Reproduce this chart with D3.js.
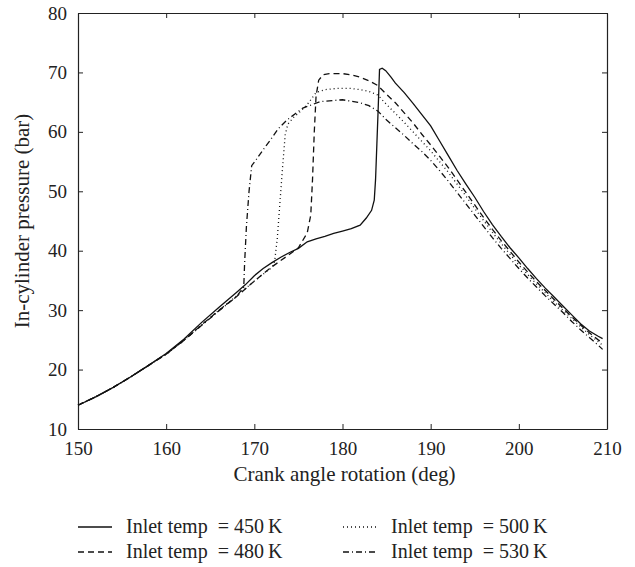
<!DOCTYPE html>
<html>
<head>
<meta charset="utf-8">
<script src="https://cdn.jsdelivr.net/npm/d3@7"></script>
<style>
  body { margin: 0; background: #fff; }
  svg { display: block; }
  text { font-family: 'Liberation Serif', 'Times New Roman', serif; fill: #222; }
  .legendText { white-space: pre; }
</style>
</head>
<body>
<svg id="chart" width="635" height="567"></svg>
<script>
// Crank angle (deg) / in-cylinder pressure (bar)
var inlet450 = [
  [150, 14.0], [152, 15.4], [154, 17.0], [156, 18.8], [158, 20.7], [160, 22.7],
  [162, 25.1], [164, 27.9], [166, 30.5], [168, 33.0], [169, 34.3], [170, 35.8],
  [171, 37.0], [172, 38.0], [173, 38.9], [174, 39.7], [175, 40.4], [176, 41.5],
  [177, 42.0], [178, 42.4], [179, 42.9], [180, 43.3], [181, 43.7], [182, 44.3],
  [182.7, 45.5], [183.3, 46.8], [183.6, 48.5], [183.75, 52], [183.9, 58],
  [184.05, 64], [184.2, 70.5], [184.5, 70.7], [184.9, 70.3], [185.5, 69.2],
  [186, 68.2], [187, 66.6], [188, 64.8], [189, 62.9], [190, 61.0], [191, 58.5],
  [192, 56.0], [193, 53.5], [194, 51.2], [195, 49.0], [196, 46.6], [197, 44.4],
  [198, 42.4], [199, 40.5], [200, 38.8], [201, 37.0], [202, 35.3], [203, 33.7],
  [204, 32.2], [205, 30.7], [206, 29.2], [207, 27.7], [208, 26.5], [209, 25.6],
  [209.5, 25.2]
];
var inlet480 = [
  [150, 14.0], [152, 15.4], [154, 17.0], [156, 18.8], [158, 20.7], [160, 22.6],
  [162, 24.9], [164, 27.5], [166, 30.0], [168, 32.3], [170, 34.9], [172, 37.3],
  [174, 39.4], [175, 40.5], [176, 43.0], [176.4, 46], [176.6, 52], [176.8, 60],
  [177, 66], [177.3, 68.7], [177.8, 69.6], [178.5, 69.8], [180, 69.8], [181, 69.6],
  [182, 69.2], [183, 68.6], [184, 67.8], [185, 66.3], [186, 64.9], [187, 63.2],
  [188, 61.5], [189, 59.6], [190, 57.8], [191, 55.9], [192, 54.0], [193, 51.9],
  [194, 49.8], [195, 47.7], [196, 45.6], [197, 43.6], [198, 41.7], [199, 39.9],
  [200, 38.1], [201, 36.4], [202, 34.8], [203, 33.3], [204, 31.8], [205, 30.3],
  [206, 28.9], [207, 27.5], [208, 26.2], [209, 25.0], [209.5, 24.5]
];
var inlet500 = [
  [150, 14.0], [152, 15.4], [154, 17.0], [156, 18.8], [158, 20.7], [160, 22.6],
  [162, 24.9], [164, 27.5], [166, 30.0], [168, 32.4], [170, 34.9], [172, 37.2],
  [172.3, 38.2], [172.6, 42], [172.9, 48], [173.2, 54], [173.5, 59.5],
  [173.8, 61.3], [174.5, 62.5], [175.2, 63.4], [176, 64.6], [177, 66.6],
  [178, 67.1], [179.3, 67.3], [181, 67.3], [182, 67.1], [183, 66.8], [184, 66.2],
  [185, 64.6], [186, 63.1], [187, 61.6], [188, 60.0], [189, 58.4], [190, 56.8],
  [191, 55.0], [192, 53.2], [193, 51.2], [194, 49.2], [195, 47.1], [196, 45.1],
  [197, 43.1], [198, 41.2], [199, 39.4], [200, 37.6], [201, 36.0], [202, 34.4],
  [203, 32.9], [204, 31.4], [205, 30.0], [206, 28.6], [207, 27.2], [208, 25.9],
  [209, 24.7], [209.5, 24.1]
];
var inlet530 = [
  [150, 14.0], [152, 15.4], [154, 17.0], [156, 18.8], [158, 20.7], [160, 22.6],
  [162, 24.9], [164, 27.4], [166, 29.9], [168, 32.3], [168.8, 33.9], [168.9, 38],
  [169.1, 44], [169.4, 50], [169.7, 54.3], [170.3, 55.5], [171, 57.0],
  [171.8, 58.6], [172.7, 60.5], [173.7, 62.0], [175.5, 64.0], [177.5, 65.1],
  [180, 65.4], [182, 64.9], [183, 64.4], [184, 63.5], [185, 62.0], [186, 60.7],
  [187, 59.4], [188, 58.0], [189, 56.7], [190, 55.2], [191, 53.5], [192, 51.7],
  [193, 49.8], [194, 47.9], [195, 46.0], [196, 44.1], [197, 42.2], [198, 40.4],
  [199, 38.7], [200, 37.0], [201, 35.4], [202, 33.9], [203, 32.4], [204, 31.0],
  [205, 29.6], [206, 28.1], [207, 26.7], [208, 25.4], [209, 24.1], [209.5, 23.4]
];

var seriesLabels = ['Inlet temp  = 450\u2009K', 'Inlet temp  = 480\u2009K',
                    'Inlet temp  = 500\u2009K', 'Inlet temp  = 530\u2009K'];
var xTicks = [150, 160, 170, 180, 190, 200, 210];
var yTicks = [10, 20, 30, 40, 50, 60, 70, 80];

(function (d3) {
  'use strict';

  var margin = {top: 13, right: 28, bottom: 138, left: 78},
      width = 635 - margin.left - margin.right,
      height = 567 - margin.top - margin.bottom;

  var svg = d3.select('#chart'),
      g = svg.append('g')
        .attr('transform', 'translate(' + margin.left + ',' + margin.top + ')');

  var x = d3.scaleLinear().domain([150, 210]).range([0, width]);
  var y = d3.scaleLinear().domain([10, 80]).range([height, 0]);

  // Line styles for each inlet temperature
  var series = [
    {data: inlet450, dash: null},
    {data: inlet480, dash: '6,4'},
    {data: inlet500, dash: '1,3'},
    {data: inlet530, dash: '6,3,1,3'}
  ];

  // Axes with inward ticks on all four sides
  function styleAxis(sel) {
    sel.select('.domain').attr('stroke', '#222').attr('stroke-width', 1.2);
    sel.selectAll('.tick line').attr('stroke', '#222').attr('stroke-width', 1);
    sel.selectAll('.tick text')
      .style('font-family', "'Liberation Serif', serif")
      .style('font-size', '19px')
      .attr('fill', '#222');
  }

  g.append('g')
    .attr('transform', 'translate(0,' + height + ')')
    .call(d3.axisBottom(x).tickValues(xTicks).tickSizeInner(-5).tickSizeOuter(0).tickPadding(13))
    .call(styleAxis);
  g.append('g')
    .call(d3.axisTop(x).tickValues(xTicks).tickSizeInner(-5).tickSizeOuter(0).tickFormat(''))
    .call(styleAxis);
  g.append('g')
    .call(d3.axisLeft(y).tickValues(yTicks).tickSizeInner(-5).tickSizeOuter(0).tickPadding(11))
    .call(styleAxis);
  g.append('g')
    .attr('transform', 'translate(' + width + ',0)')
    .call(d3.axisRight(y).tickValues(yTicks).tickSizeInner(-5).tickSizeOuter(0).tickFormat(''))
    .call(styleAxis);

  // Axis titles
  g.append('text')
    .attr('x', width / 2 + 2)
    .attr('y', 468)
    .attr('text-anchor', 'middle')
    .style('font-size', '21px')
    .text('Crank angle rotation (deg)');

  g.append('text')
    .attr('transform', 'translate(' + (-49) + ',' + (height / 2) + ') rotate(-90)')
    .attr('text-anchor', 'middle')
    .style('font-size', '21px')
    .text('In-cylinder pressure (bar)');

  // Pressure curves
  var line = d3.line()
    .x(function(d) { return x(d[0]); })
    .y(function(d) { return y(d[1]); });

  g.selectAll('.curve')
    .data(series)
    .enter().append('path')
      .attr('class', 'curve')
      .attr('fill', 'none')
      .attr('stroke', '#111')
      .attr('stroke-width', 1.3)
      .attr('stroke-dasharray', function(d) { return d.dash; })
      .attr('d', function(d) { return line(d.data); });

  // Legend, two columns
  var legendPos = [
    {x: 0, y: 514}, {x: 0, y: 539},
    {x: 265, y: 514}, {x: 265, y: 539}
  ];
  var legend = svg.append('g')
    .attr('transform', 'translate(78,0)')
    .selectAll('.legendItem')
    .data(series)
    .enter().append('g')
      .attr('class', 'legendItem')
      .attr('transform', function(d, i) {
        return 'translate(' + legendPos[i].x + ',' + legendPos[i].y + ')';
      });

  legend.append('line')
    .attr('x1', 0).attr('x2', 34)
    .attr('y1', 13).attr('y2', 13)
    .attr('stroke', '#111')
    .attr('stroke-width', 1.3)
    .attr('stroke-dasharray', function(d) { return d.dash; });

  legend.append('text')
    .attr('class', 'legendText')
    .attr('x', 48)
    .attr('y', 19)
    .style('font-size', '20px')
    .text(function(d, i) { return seriesLabels[i]; });

}(d3));
</script>
</body>
</html>
